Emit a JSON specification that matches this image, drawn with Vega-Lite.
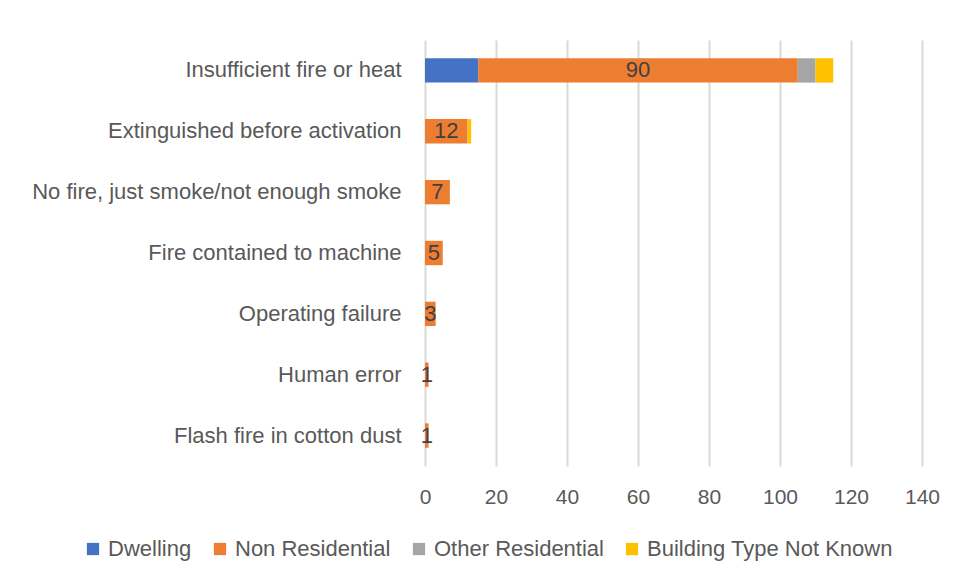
{
  "$schema": "https://vega.github.io/schema/vega-lite/v6.json",
  "width": 497,
  "height": 426,
  "autosize": {"type": "none"},
  "padding": {"left": 425, "top": 40, "right": 34, "bottom": 115},
  "background": "white",
  "config": {
    "font": "Liberation Sans",
    "view": {"stroke": null}
  },
  "data": {
    "values": [
      {"cause": "Insufficient fire or heat", "type": "Dwelling", "o": 1, "value": 15},
      {"cause": "Insufficient fire or heat", "type": "Non Residential", "o": 2, "value": 90},
      {"cause": "Insufficient fire or heat", "type": "Other Residential", "o": 3, "value": 5},
      {"cause": "Insufficient fire or heat", "type": "Building Type Not Known", "o": 4, "value": 5},
      {"cause": "Extinguished before activation", "type": "Non Residential", "o": 2, "value": 12},
      {"cause": "Extinguished before activation", "type": "Building Type Not Known", "o": 4, "value": 1},
      {"cause": "No fire, just smoke/not enough smoke", "type": "Non Residential", "o": 2, "value": 7},
      {"cause": "Fire contained to machine", "type": "Non Residential", "o": 2, "value": 5},
      {"cause": "Operating failure", "type": "Non Residential", "o": 2, "value": 3},
      {"cause": "Human error", "type": "Non Residential", "o": 2, "value": 1},
      {"cause": "Flash fire in cotton dust", "type": "Non Residential", "o": 2, "value": 1}
    ]
  },
  "transform": [
    {"stack": "value", "groupby": ["cause"], "sort": [{"field": "o", "order": "ascending"}], "as": ["x0", "x1"]}
  ],
  "encoding": {
    "y": {
      "field": "cause",
      "type": "nominal",
      "sort": ["Insufficient fire or heat", "Extinguished before activation", "No fire, just smoke/not enough smoke", "Fire contained to machine", "Operating failure", "Human error", "Flash fire in cotton dust"],
      "scale": {"paddingInner": 0.6, "paddingOuter": 0.3},
      "axis": {"title": null, "domain": false, "ticks": false, "labelPadding": 24, "labelFontSize": 22, "labelColor": "#595959", "labelLimit": 500}
    }
  },
  "layer": [
    {
      "mark": {"type": "bar"},
      "encoding": {
        "x": {
          "field": "x0", "type": "quantitative",
          "scale": {"domain": [0, 140], "nice": false},
          "axis": {"title": null, "values": [0, 20, 40, 60, 80, 100, 120, 140], "domain": false, "ticks": false, "grid": true, "gridColor": "#d9d9d9", "gridWidth": 2, "labelPadding": 20, "labelFontSize": 21, "labelColor": "#595959", "labelFlush": false}
        },
        "x2": {"field": "x1"},
        "color": {
          "field": "type", "type": "nominal",
          "scale": {
            "domain": ["Dwelling", "Non Residential", "Other Residential", "Building Type Not Known"],
            "range": ["#4472c4", "#ed7d31", "#a5a5a5", "#ffc000"]
          },
          "legend": {
            "title": null, "orient": "none", "direction": "horizontal",
            "legendX": -343, "legendY": 498,
            "symbolType": "square", "symbolSize": 150, "symbolStrokeWidth": 0,
            "labelFontSize": 22, "labelColor": "#595959", "columnPadding": 17, "labelOffset": 4, "labelLimit": 400
          }
        }
      }
    },
    {
      "transform": [
        {"filter": "datum.type === 'Non Residential'"},
        {"calculate": "(datum.x0 + datum.x1) / 2", "as": "mid"}
      ],
      "mark": {"type": "text", "fontSize": 22, "color": "#404040", "baseline": "middle", "align": "center"},
      "encoding": {
        "x": {"field": "mid", "type": "quantitative"},
        "text": {"field": "value", "type": "quantitative"}
      }
    }
  ]
}
